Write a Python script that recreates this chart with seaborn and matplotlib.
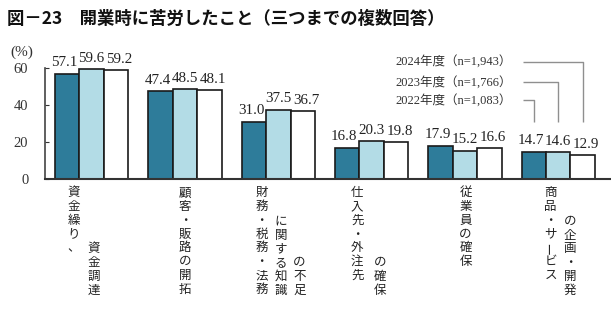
import matplotlib
matplotlib.use("Agg")
import matplotlib.pyplot as plt
import matplotlib.transforms as mtransforms
import pandas as pd
import seaborn as sns

# --- data -------------------------------------------------------------
categories = [
    "資金繰り、資金調達",
    "顧客・販路の開拓",
    "財務・税務・法務に関する知識の不足",
    "仕入先・外注先の確保",
    "従業員の確保",
    "商品・サービスの企画・開発",
]
years = ["2022年度（n=1,083）", "2023年度（n=1,766）", "2024年度（n=1,943）"]
values_2022 = [57.1, 47.4, 31.0, 16.8, 17.9, 14.7]
values_2023 = [59.6, 48.5, 37.5, 20.3, 15.2, 14.6]
values_2024 = [59.2, 48.1, 36.7, 19.8, 16.6, 12.9]
y_ticks = [0, 20, 40, 60]

# vertical category labels, split into columns
label_columns = [
    ["資金繰り、", "資金調達"],
    ["顧客・販路の開拓"],
    ["財務・税務・法務", "に関する知識", "の不足"],
    ["仕入先・外注先", "の確保"],
    ["従業員の確保"],
    ["商品・サービス", "の企画・開発"],
]
# horizontal pixel offset of each column from the group centre
column_dx = [
    [-17.7, 1.8],
    [0.0],
    [-16.6, 2.7, 21.0],
    [-14.4, 8.3],
    [0.7],
    [-7.6, 11.7],
]

title = "図－23　開業時に苦労したこと（三つまでの複数回答）"
colors = ["#2E7C9A", "#B3DCE6", "#FFFFFF"]

df = pd.DataFrame({
    "項目": categories * 3,
    "年度": [years[0]] * 6 + [years[1]] * 6 + [years[2]] * 6,
    "割合": values_2022 + values_2023 + values_2024,
})

# --- style ------------------------------------------------------------
sns.set_style("ticks")
plt.rcParams["font.family"] = ["Liberation Serif", "Noto Sans CJK JP"]
serif = ["Liberation Serif", "Noto Sans CJK JP"]
gothic = ["Noto Sans CJK JP", "DejaVu Sans"]

W, H = 611, 327
fig = plt.figure(figsize=(W / 100, H / 100), dpi=100)
ax = fig.add_axes([45 / W, 148.5 / H, 565 / W, 110.2 / H])

sns.barplot(
    data=df, x="項目", y="割合", hue="年度",
    order=categories, hue_order=years, palette=colors,
    saturation=1, edgecolor="#1a1a1a", linewidth=1.2,
    width=0.786, gap=0, errorbar=None, legend=False, ax=ax,
)

ax.set_xlim(-0.5, 5.555)
ax.set_ylim(0, 60)
ax.set_xlabel("")
ax.set_ylabel("")
ax.set_yticks(y_ticks)
ax.set_yticklabels([str(t) for t in y_ticks], family=serif, fontsize=10.5, color="#333333")
ax.tick_params(axis="y", direction="in", length=3, width=0.8, pad=12, colors="#333333")
ax.tick_params(axis="x", length=0, labelbottom=False)

sns.despine(ax=ax)
ax.spines["left"].set_color("#444444")
ax.spines["left"].set_linewidth(1.2)
ax.spines["bottom"].set_color("#333333")
ax.spines["bottom"].set_linewidth(1.5)

# value labels above bars, spread slightly apart within each group
label_shift = [-2.0, 0.0, 2.5]  # points
for cont, shift in zip(ax.containers, label_shift):
    anns = ax.bar_label(cont, fmt="%.1f", padding=3, fontsize=10.8,
                        family=serif, color="#222222", clip_on=False)
    for ann in anns:
        ann.xyann = (shift, ann.xyann[1])

# year labels with leader lines to the last group's bars
last = len(categories) - 1
label_y = [42.7, 52.4, 63.6]
for k, cont in enumerate(ax.containers):
    bar = cont[last]
    xb = bar.get_x() + bar.get_width() / 2
    ax.text(4.505, label_y[k], years[k], ha="right", va="center",
            fontsize=9, family=serif, color="#333333", clip_on=False)
    ax.plot([4.62, xb, xb], [label_y[k], label_y[k], 30.5],
            color="#8f8f8f", lw=1.0, clip_on=False, solid_capstyle="butt")

# vertical category labels
pitch = 13.75
base = ax.get_xaxis_transform()
for i, cols in enumerate(label_columns):
    for j, col in enumerate(cols):
        n = len(col)
        for k, ch in enumerate(col):
            if j == 0:
                dy = -(7.5 + pitch * (k + 0.5))
            else:
                dy = -(118.5 - pitch * (n - k - 0.5))
            tr = mtransforms.offset_copy(base, fig=fig, x=column_dx[i][j], y=dy, units="dots")
            ax.text(i, 0, ch, transform=tr, ha="center", va="center",
                    fontsize=9, family=gothic, color="#222222",
                    rotation=90 if ch == "ー" else 0, clip_on=False)

fig.text(10 / W, 1 - 52.7 / H, "(%)", ha="left", va="center",
         fontsize=11, family=serif, color="#333333")
fig.text(7 / W, 1 - 19 / H, title, ha="left", va="center",
         fontsize=12.5, fontweight="bold", family=gothic, color="#111111")

fig.savefig("out.png", dpi=100)
